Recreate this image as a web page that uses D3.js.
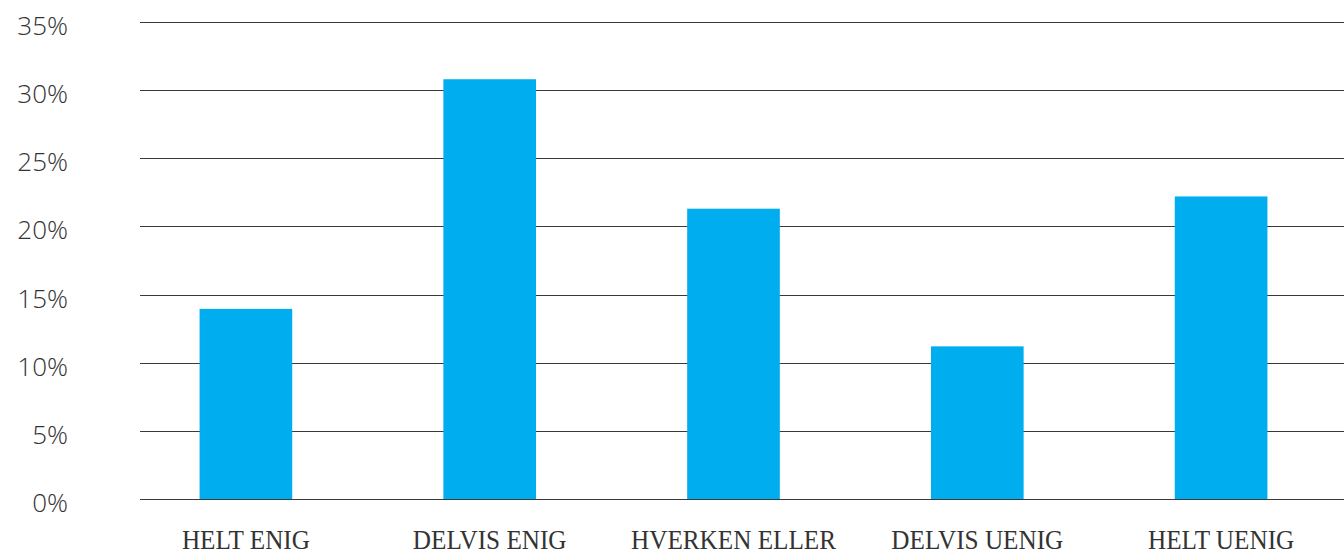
<!DOCTYPE html>
<html>
<head>
<meta charset="utf-8">
<script src="https://cdn.jsdelivr.net/npm/d3@7"></script>
<style>
  html, body { margin: 0; padding: 0; background: #fff; overflow: hidden; }
  svg { display: block; }
</style>
</head>
<body>
<svg id="chart" width="1344" height="556"></svg>
<script>
const categories = ["HELT ENIG", "DELVIS ENIG", "HVERKEN ELLER", "DELVIS UENIG", "HELT UENIG"];
const values = [13.95, 30.8, 21.3, 11.2, 22.2];
const yTicks = [0, 5, 10, 15, 20, 25, 30, 35];

const svg = d3.select("#chart");
const W = 1344, H = 556;

const x = d3.scaleBand().domain(categories).range([124, 1343]).paddingInner(0.62).paddingOuter(0.31);
const y = d3.scaleLinear().domain([0, 35]).range([499, 22]);

// gridlines
svg.append("g").selectAll("line").data(yTicks).join("line")
  .attr("x1", 140).attr("x2", W)
  .attr("y1", d => Math.round(y(d)) + 0.5).attr("y2", d => Math.round(y(d)) + 0.5)
  .attr("stroke", "#3a3a3a").attr("stroke-width", 1);

// y labels
svg.append("g").selectAll("text").data(yTicks).join("text")
  .attr("x", 68).attr("y", d => y(d) + 13)
  .attr("text-anchor", "end")
  .attr("font-family", "'Open Sans', sans-serif")
  .attr("font-weight", 300)
  .attr("font-size", 26)
  .attr("fill", "#333")
  .text(d => d + "%");

// bars
svg.append("g").selectAll("rect").data(values).join("rect")
  .attr("x", (d, i) => x(categories[i]))
  .attr("width", x.bandwidth())
  .attr("y", d => y(d))
  .attr("height", d => y(0) - y(d))
  .attr("fill", "#00ADEF");

// category labels
svg.append("g").selectAll("g").data(categories).join("g")
  .attr("transform", d => `translate(${x(d) + x.bandwidth() / 2},549) scale(0.9,1)`)
  .append("text")
  .attr("text-anchor", "middle")
  .attr("font-family", "'Liberation Serif', serif")
  .attr("font-size", 28)
  .attr("fill", "#333")
  .text(d => d);
</script>
</body>
</html>
